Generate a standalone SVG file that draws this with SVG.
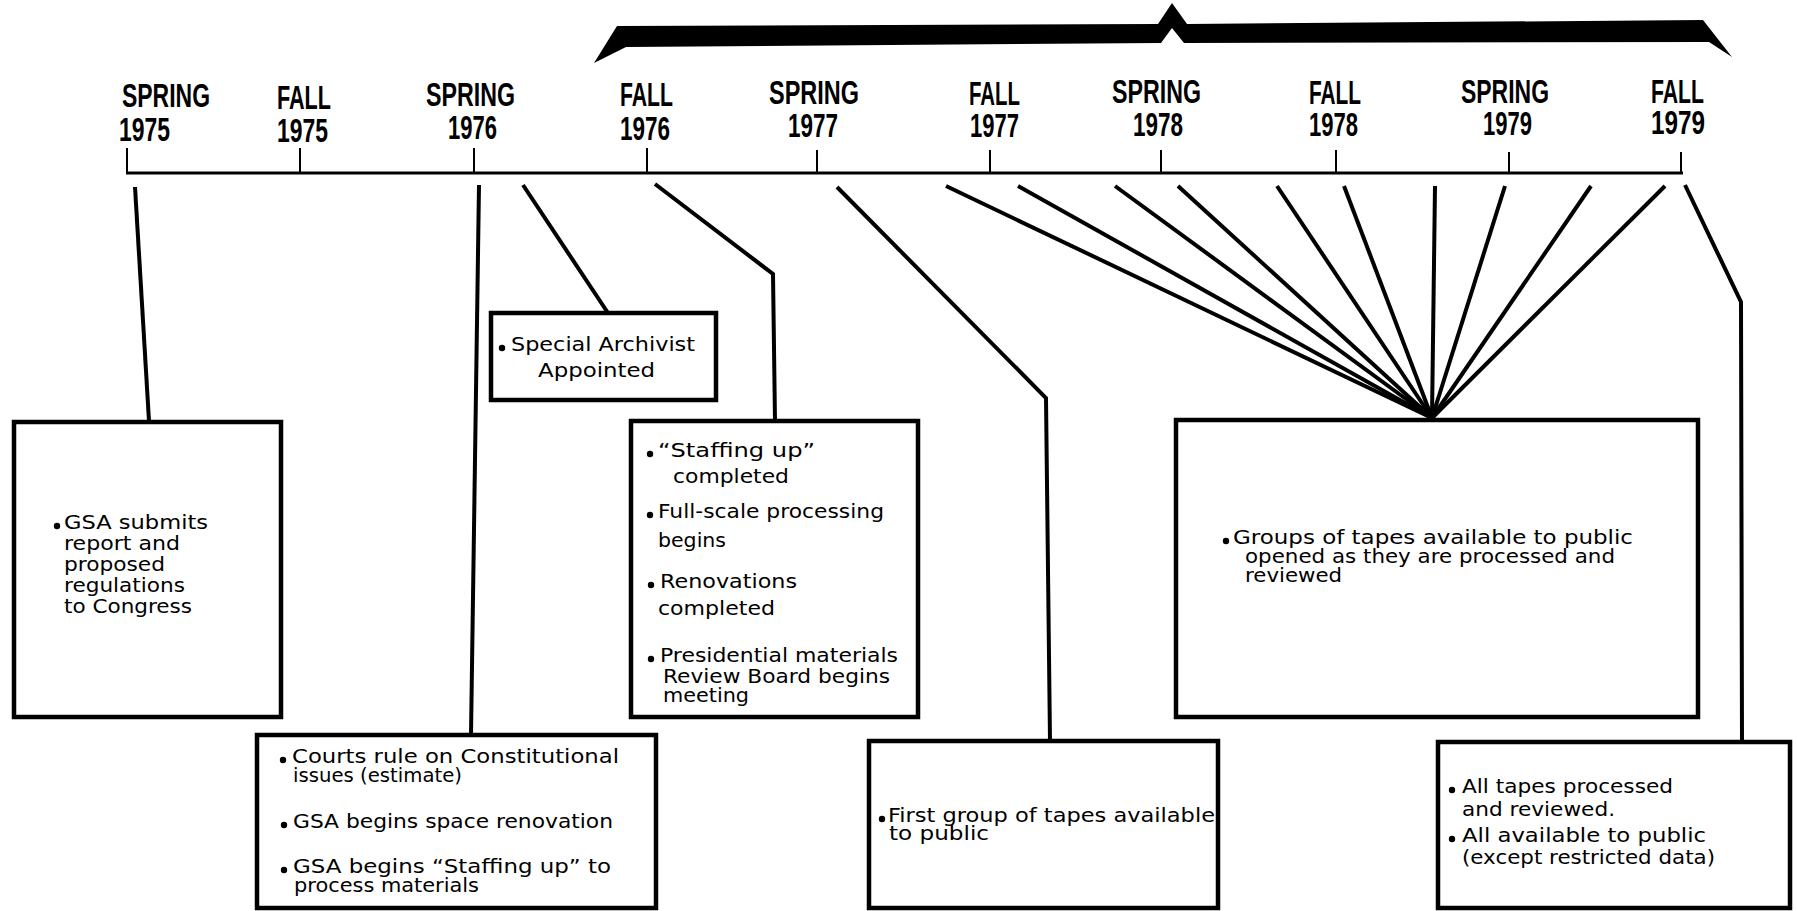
<svg xmlns="http://www.w3.org/2000/svg" width="1797" height="911" viewBox="0 0 1797 911">
<style>
.box{fill:#fff;stroke:#000;stroke-width:4.5}
.conn{fill:none;stroke:#000;stroke-width:4;stroke-linejoin:miter}
.axis{fill:none;stroke:#000;stroke-width:3}
.tick{fill:none;stroke:#000;stroke-width:2}
.lbl{font-family:"Liberation Sans",Arial,sans-serif;font-weight:bold;font-size:33px;fill:#000}
.t{font-family:"DejaVu Sans","Liberation Sans",sans-serif;font-size:20px;fill:#000}
.dot{fill:#000}
</style>
<rect x="0" y="0" width="1797" height="911" fill="#fff"/>

<g id="bracket">
<polygon points="594,63 617,26 1158,24 1172,3 1187,24 1703,20 1732,57 1709,42 1184,43 1172,28 1161,43 626,47" fill="#000"/>
</g>

<g id="timeline">
<line class="axis" x1="126" y1="173" x2="1683" y2="173"/>
<path class="tick" d="M127,148V173 M300,148V173 M474,148V173 M647,148V173 M817,150V173 M990,150V173 M1161,150V173 M1336,150V173 M1509,152V173 M1681,152V173"/>
<text class="lbl" x="122" y="107" textLength="88" lengthAdjust="spacingAndGlyphs">SPRING</text>
<text class="lbl" x="119" y="141" textLength="51" lengthAdjust="spacingAndGlyphs">1975</text>
<text class="lbl" x="277" y="109" textLength="54" lengthAdjust="spacingAndGlyphs">FALL</text>
<text class="lbl" x="277" y="142" textLength="51" lengthAdjust="spacingAndGlyphs">1975</text>
<text class="lbl" x="426" y="106" textLength="89" lengthAdjust="spacingAndGlyphs">SPRING</text>
<text class="lbl" x="448" y="139" textLength="49" lengthAdjust="spacingAndGlyphs">1976</text>
<text class="lbl" x="620" y="106" textLength="53" lengthAdjust="spacingAndGlyphs">FALL</text>
<text class="lbl" x="620" y="140" textLength="50" lengthAdjust="spacingAndGlyphs">1976</text>
<text class="lbl" x="769" y="104" textLength="90" lengthAdjust="spacingAndGlyphs">SPRING</text>
<text class="lbl" x="788" y="137" textLength="50" lengthAdjust="spacingAndGlyphs">1977</text>
<text class="lbl" x="969" y="105" textLength="51" lengthAdjust="spacingAndGlyphs">FALL</text>
<text class="lbl" x="970" y="137" textLength="49" lengthAdjust="spacingAndGlyphs">1977</text>
<text class="lbl" x="1112" y="103" textLength="89" lengthAdjust="spacingAndGlyphs">SPRING</text>
<text class="lbl" x="1133" y="136" textLength="50" lengthAdjust="spacingAndGlyphs">1978</text>
<text class="lbl" x="1309" y="104" textLength="52" lengthAdjust="spacingAndGlyphs">FALL</text>
<text class="lbl" x="1309" y="136" textLength="49" lengthAdjust="spacingAndGlyphs">1978</text>
<text class="lbl" x="1461" y="103" textLength="88" lengthAdjust="spacingAndGlyphs">SPRING</text>
<text class="lbl" x="1483" y="135" textLength="49" lengthAdjust="spacingAndGlyphs">1979</text>
<text class="lbl" x="1651" y="103" textLength="53" lengthAdjust="spacingAndGlyphs">FALL</text>
<text class="lbl" x="1651" y="134" textLength="54" lengthAdjust="spacingAndGlyphs">1979</text>
</g>

<g id="connectors">
<polyline class="conn" points="135,187 149,421"/>
<polyline class="conn" points="479,185 471,735"/>
<polyline class="conn" points="523,185 608,313"/>
<polyline class="conn" points="655,184 773,274 775,421"/>
<polyline class="conn" points="837,187 1046,398 1050,741"/>
<polyline class="conn" points="946,186 1432,418"/>
<polyline class="conn" points="1018,186 1432,418"/>
<polyline class="conn" points="1115,186 1432,418"/>
<polyline class="conn" points="1178,186 1432,418"/>
<polyline class="conn" points="1277,186 1432,418"/>
<polyline class="conn" points="1344,186 1432,418"/>
<polyline class="conn" points="1435,186 1432,418"/>
<polyline class="conn" points="1505,186 1432,418"/>
<polyline class="conn" points="1591,186 1432,418"/>
<polyline class="conn" points="1665,186 1432,418"/>
<polyline class="conn" points="1685,185 1741,302 1742,743"/>
</g>

<g id="box-spring1975">
<rect class="box" x="14" y="422" width="267" height="295"/>
<circle class="dot" cx="57" cy="526" r="3.2"/>
<text class="t" x="64" y="529" textLength="144" lengthAdjust="spacingAndGlyphs">GSA submits</text>
<text class="t" x="64" y="550" textLength="116" lengthAdjust="spacingAndGlyphs">report and</text>
<text class="t" x="64" y="571" textLength="101" lengthAdjust="spacingAndGlyphs">proposed</text>
<text class="t" x="64" y="592" textLength="121" lengthAdjust="spacingAndGlyphs">regulations</text>
<text class="t" x="64" y="613" textLength="128" lengthAdjust="spacingAndGlyphs">to Congress</text>
</g>

<g id="box-archivist">
<rect class="box" x="491" y="313" width="225" height="87"/>
<circle class="dot" cx="502" cy="348" r="3.2"/>
<text class="t" x="511" y="351" textLength="184" lengthAdjust="spacingAndGlyphs">Special Archivist</text>
<text class="t" x="538" y="377" textLength="117" lengthAdjust="spacingAndGlyphs">Appointed</text>
</g>

<g id="box-fall1976">
<rect class="box" x="631" y="421" width="287" height="296"/>
<circle class="dot" cx="650" cy="454" r="3.2"/>
<text class="t" x="658" y="457" textLength="157" lengthAdjust="spacingAndGlyphs">“Staffing up”</text>
<text class="t" x="673" y="483" textLength="116" lengthAdjust="spacingAndGlyphs">completed</text>
<circle class="dot" cx="650" cy="515" r="3.2"/>
<text class="t" x="658" y="518" textLength="226" lengthAdjust="spacingAndGlyphs">Full-scale processing</text>
<text class="t" x="658" y="547" textLength="68" lengthAdjust="spacingAndGlyphs">begins</text>
<circle class="dot" cx="651" cy="585" r="3.2"/>
<text class="t" x="660" y="588" textLength="137" lengthAdjust="spacingAndGlyphs">Renovations</text>
<text class="t" x="658" y="615" textLength="117" lengthAdjust="spacingAndGlyphs">completed</text>
<circle class="dot" cx="651" cy="659" r="3.2"/>
<text class="t" x="660" y="662" textLength="238" lengthAdjust="spacingAndGlyphs">Presidential materials</text>
<text class="t" x="663" y="683" textLength="227" lengthAdjust="spacingAndGlyphs">Review Board begins</text>
<text class="t" x="663" y="702" textLength="86" lengthAdjust="spacingAndGlyphs">meeting</text>
</g>

<g id="box-spring1976">
<rect class="box" x="257" y="735" width="399" height="173"/>
<circle class="dot" cx="283" cy="760" r="3.2"/>
<text class="t" x="292" y="763" textLength="327" lengthAdjust="spacingAndGlyphs">Courts rule on Constitutional</text>
<text class="t" x="293" y="782" textLength="169" lengthAdjust="spacingAndGlyphs">issues (estimate)</text>
<circle class="dot" cx="284" cy="825" r="3.2"/>
<text class="t" x="293" y="828" textLength="320" lengthAdjust="spacingAndGlyphs">GSA begins space renovation</text>
<circle class="dot" cx="284" cy="870" r="3.2"/>
<text class="t" x="293" y="873" textLength="318" lengthAdjust="spacingAndGlyphs">GSA begins “Staffing up” to</text>
<text class="t" x="294" y="892" textLength="185" lengthAdjust="spacingAndGlyphs">process materials</text>
</g>

<g id="box-spring1977">
<rect class="box" x="869" y="741" width="349" height="167"/>
<circle class="dot" cx="882" cy="819" r="3.2"/>
<text class="t" x="888" y="822" textLength="327" lengthAdjust="spacingAndGlyphs">First group of tapes available</text>
<text class="t" x="889" y="840" textLength="100" lengthAdjust="spacingAndGlyphs">to public</text>
</g>

<g id="box-groups">
<rect class="box" x="1176" y="420" width="522" height="297"/>
<circle class="dot" cx="1226" cy="541" r="3.2"/>
<text class="t" x="1233" y="544" textLength="400" lengthAdjust="spacingAndGlyphs">Groups of tapes available to public</text>
<text class="t" x="1245" y="563" textLength="370" lengthAdjust="spacingAndGlyphs">opened as they are processed and</text>
<text class="t" x="1245" y="582" textLength="97" lengthAdjust="spacingAndGlyphs">reviewed</text>
</g>

<g id="box-fall1979">
<rect class="box" x="1438" y="742" width="352" height="166"/>
<circle class="dot" cx="1452" cy="790" r="3.2"/>
<text class="t" x="1462" y="793" textLength="211" lengthAdjust="spacingAndGlyphs">All tapes processed</text>
<text class="t" x="1462" y="816" textLength="153" lengthAdjust="spacingAndGlyphs">and reviewed.</text>
<circle class="dot" cx="1452" cy="839" r="3.2"/>
<text class="t" x="1462" y="842" textLength="244" lengthAdjust="spacingAndGlyphs">All available to public</text>
<text class="t" x="1462" y="864" textLength="253" lengthAdjust="spacingAndGlyphs">(except restricted data)</text>
</g>
</svg>
